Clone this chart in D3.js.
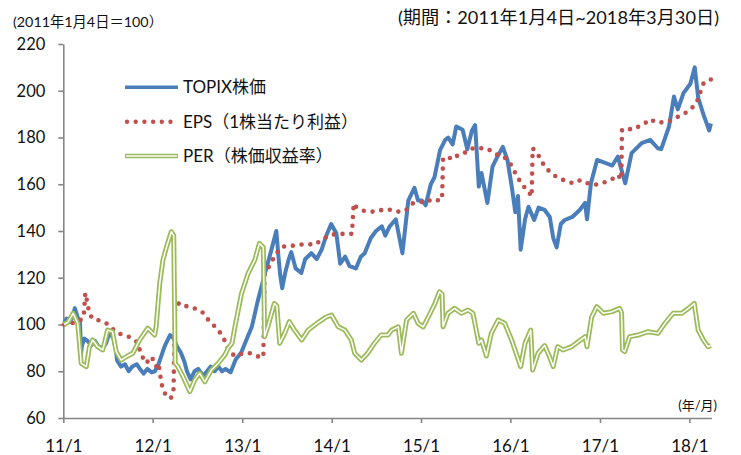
<!DOCTYPE html>
<html><head><meta charset="utf-8">
<script src="https://cdn.jsdelivr.net/npm/d3@7"></script>
<style>
body{margin:0;background:#fff}
text{font-family:Lato,"Noto Sans CJK JP",sans-serif;fill:#111}
</style>
</head><body>
<svg id="c" width="741" height="455"></svg>
<script>
// ---------- data ----------
const seriesNames = ["TOPIX株価", "EPS（1株当たり利益）", "PER（株価収益率）"];
const yTicks = [60, 80, 100, 120, 140, 160, 180, 200, 220];
const xTickYears = [2011, 2012, 2013, 2014, 2015, 2016, 2017, 2018];
const baseNote = "(2011年1月4日＝100）";
const periodNote = "(期間：2011年1月4日~2018年3月30日)";
const unitNote = "(年/月)";

const topix = [
["2011-01-04",100],["2011-01-14",102.5],["2011-01-28",101],["2011-02-10",104],["2011-02-17",107],
["2011-03-01",103],["2011-03-10",101],["2011-03-15",88],["2011-03-18",91],["2011-03-28",94],
["2011-04-10",93],["2011-04-25",91],["2011-05-10",93],["2011-05-25",90.5],["2011-06-10",90],
["2011-06-25",92],["2011-07-08",96.5],["2011-07-25",94],["2011-08-04",89],["2011-08-09",84.5],
["2011-08-25",82],["2011-09-10",83],["2011-09-25",80],["2011-10-10",82],["2011-10-28",83],
["2011-11-10",81],["2011-11-25",79],["2011-12-10",81],["2011-12-28",79.5],["2012-01-10",80],
["2012-01-25",83],["2012-02-10",88],["2012-02-20",91],["2012-03-12",95.5],["2012-03-27",94],
["2012-04-10",90.5],["2012-04-25",88],["2012-05-10",84],["2012-05-20",80],["2012-06-04",76.5],
["2012-06-20",80],["2012-07-05",81],["2012-07-25",78],["2012-08-10",80],["2012-08-25",82],
["2012-09-10",80],["2012-09-25",82],["2012-10-10",80],["2012-10-25",81],["2012-11-14",79.5],
["2012-12-05",85],["2012-12-28",88],["2013-01-20",94],["2013-02-09",99],["2013-03-05",110],
["2013-04-04",122],["2013-04-25",130],["2013-05-20",140],["2013-05-28",130],["2013-06-05",121],
["2013-06-13",115.5],["2013-06-25",122],["2013-07-10",128],["2013-07-20",131],["2013-08-07",124],
["2013-08-30",122],["2013-09-15",128],["2013-10-10",130.5],["2013-11-01",128],["2013-11-21",132],
["2013-12-10",138],["2013-12-30",143],["2014-01-20",139],["2014-02-05",126],["2014-02-25",129],
["2014-03-15",125],["2014-04-10",124],["2014-04-30",129],["2014-05-16",130.5],["2014-06-10",137],
["2014-07-01",140],["2014-07-25",142],["2014-08-08",138],["2014-08-25",141.8],["2014-09-20",145],
["2014-10-17",130.5],["2014-11-10",153],["2014-12-05",158.5],["2014-12-20",153],["2015-01-05",153],
["2015-01-20",151],["2015-02-10",160],["2015-02-25",163],["2015-03-20",174.7],["2015-04-10",179],
["2015-04-22",180],["2015-05-10",177],["2015-05-25",184.7],["2015-06-20",183.3],["2015-07-09",175],
["2015-07-28",183],["2015-08-10",185.3],["2015-08-25",159],["2015-09-05",164.8],["2015-09-29",152],
["2015-10-20",167.5],["2015-11-10",172],["2015-12-01",176],["2015-12-20",170.4],["2016-01-08",158],
["2016-01-21",148],["2016-02-01",155],["2016-02-12",132],["2016-03-01",145],["2016-03-15",150.4],
["2016-04-07",144.7],["2016-04-25",150],["2016-05-20",149],["2016-06-10",146],["2016-06-24",137],
["2016-07-08",133],["2016-07-25",143],["2016-08-10",144.7],["2016-09-10",146],["2016-10-10",149],
["2016-11-01",152],["2016-11-09",145],["2016-11-25",160.4],["2016-12-20",170.4],["2017-01-25",169],
["2017-02-20",168],["2017-03-15",171.8],["2017-04-14",160.4],["2017-05-10",173.3],["2017-06-20",177.6],
["2017-07-25",179],["2017-08-25",175.4],["2017-09-08",175],["2017-10-10",184.7],["2017-10-30",197.5],
["2017-11-15",192],["2017-12-08",199],["2018-01-05",203],["2018-01-23",210],["2018-02-06",197],
["2018-02-27",190],["2018-03-23",183],["2018-03-30",186]
];

const eps = [
["2011-01-04",100],["2011-03-01",101],["2011-03-25",103],["2011-04-01",113.5],["2011-04-08",110],
["2011-04-15",106],["2011-04-28",102.6],["2011-05-20",102],["2011-06-25",100.6],["2011-08-08",96.5],
["2011-09-01",95.5],["2011-09-28",94.7],["2011-10-28",92.6],["2011-11-20",86.2],["2011-12-05",83.4],
["2011-12-28",86.2],["2012-01-15",82],["2012-01-25",83.5],["2012-02-05",75.5],["2012-02-12",72],
["2012-02-28",69.1],["2012-03-15",68.4],["2012-03-26",71.3],["2012-04-02",108.3],["2012-04-25",109.3],
["2012-05-15",107.9],["2012-06-10",107.4],["2012-07-05",106.2],["2012-07-25",105],["2012-08-10",102.6],
["2012-08-30",100.5],["2012-09-15",98.6],["2012-10-05",96.2],["2012-10-20",93.4],["2012-11-05",89.1],
["2012-12-01",86.5],["2013-01-05",87.7],["2013-02-01",87.7],["2013-02-20",87],["2013-03-10",86.2],
["2013-03-28",86],["2013-04-02",121.9],["2013-04-20",124.7],["2013-05-01",126.9],["2013-05-20",130.5],
["2013-06-15",133.3],["2013-07-20",133.6],["2013-08-10",134],["2013-09-05",134.3],["2013-10-01",134.4],
["2013-10-20",134],["2013-11-10",135.4],["2013-12-01",136.9],["2014-01-01",138.3],["2014-01-28",139],
["2014-02-25",138.6],["2014-03-25",138.8],["2014-04-01",151.8],["2014-04-10",150.4],["2014-05-10",148.7],
["2014-06-05",148.3],["2014-06-28",148.3],["2014-07-25",149],["2014-08-20",149.3],["2014-09-20",148.3],
["2014-10-20",148.3],["2014-11-05",149.3],["2014-11-28",151.8],["2014-12-15",152.1],["2015-01-05",152.5],
["2015-01-25",153.5],["2015-02-20",152.5],["2015-03-20",153.5],["2015-03-28",153.5],["2015-04-01",171],
["2015-04-20",171.8],["2015-05-10",170.6],["2015-06-01",172.5],["2015-06-15",173.2],["2015-07-15",173.9],
["2015-08-01",175.4],["2015-08-28",175.4],["2015-09-25",175.4],["2015-10-20",173.9],["2015-11-10",172.5],
["2015-12-05",171.8],["2015-12-28",169.6],["2016-01-25",164],["2016-02-10",161.1],["2016-02-25",159],
["2016-03-15",156.8],["2016-03-28",154.7],["2016-04-01",175.4],["2016-04-20",173.2],["2016-05-05",170.4],
["2016-05-20",167.5],["2016-06-17",164.7],["2016-07-07",163.2],["2016-07-28",162.1],["2016-08-24",161.1],
["2016-09-14",160.4],["2016-10-13",161.8],["2016-11-12",160.4],["2016-12-09",159.7],["2017-01-02",160.4],
["2017-01-29",161.1],["2017-02-25",162.5],["2017-03-15",164],["2017-03-29",162],["2017-04-01",183.2],
["2017-04-12",183.9],["2017-05-16",183.4],["2017-06-12",184.9],["2017-07-03",186],["2017-07-23",187.8],
["2017-08-26",186.3],["2017-10-01",186.8],["2017-10-27",187.5],["2017-11-17",189],["2017-12-07",190],
["2017-12-28",191.3],["2018-01-17",193.2],["2018-02-01",195.3],["2018-02-14",199.2],["2018-02-28",203.2],
["2018-03-18",204.6],["2018-03-30",204.8]
];

const per = [
["2011-01-04",100],["2011-01-20",101],["2011-02-10",104.8],["2011-03-01",100.5],["2011-03-15",83.4],
["2011-04-05",82],["2011-04-18",90.5],["2011-05-01",93.4],["2011-05-21",90.5],["2011-06-11",89.1],
["2011-07-01",97.6],["2011-07-21",96.9],["2011-08-05",88.4],["2011-08-25",84.8],["2011-09-15",86.2],
["2011-10-12",87.7],["2011-11-09",93.4],["2011-12-12",98.4],["2012-01-09",95.5],["2012-01-15",99],
["2012-01-30",117.7],["2012-02-12",127.6],["2012-02-27",133.3],["2012-03-17",139.7],["2012-03-27",138],
["2012-04-02",83.4],["2012-04-13",82],["2012-05-04",77.7],["2012-06-01",71.3],["2012-06-21",76.3],
["2012-07-11",79.1],["2012-08-01",75.5],["2012-08-28",80.5],["2012-09-25",83.4],["2012-10-22",87],
["2012-11-05",90],["2012-11-20",92],["2012-12-02",99],["2012-12-29",113.3],["2013-01-25",121.9],
["2013-02-21",127.6],["2013-03-12",134.7],["2013-03-28",133],["2013-04-02",94.8],["2013-04-15",99],
["2013-05-12",109],["2013-05-22",108],["2013-06-03",92],["2013-06-23",96.2],["2013-07-12",101.2],
["2013-08-02",97.6],["2013-09-01",93.4],["2013-09-27",97.6],["2013-10-24",99.8],["2013-11-21",101.9],
["2013-12-11",103.3],["2014-01-01",104],["2014-01-28",99],["2014-02-24",97.6],["2014-03-22",93.4],
["2014-04-05",87.7],["2014-05-02",84.8],["2014-05-28",87.7],["2014-06-25",92],["2014-07-22",95.5],
["2014-08-19",95.5],["2014-09-03",97.6],["2014-09-30",99],["2014-10-13",87.7],["2014-11-03",101.9],
["2014-12-01",104.8],["2014-12-20",100.5],["2015-01-10",99],["2015-01-31",103.3],["2015-02-27",109],
["2015-03-17",114],["2015-03-28",113],["2015-04-01",99],["2015-04-21",104.8],["2015-05-18",106.9],
["2015-06-15",104.8],["2015-07-12",106.2],["2015-08-01",104.8],["2015-08-25",92],["2015-09-05",93.4],
["2015-09-25",86.5],["2015-10-15",96.2],["2015-11-12",101.9],["2015-12-09",100.5],["2016-01-06",93.4],
["2016-02-12",82],["2016-03-01",92],["2016-03-24",97.6],["2016-04-01",80.5],["2016-04-23",87.7],
["2016-05-20",91],["2016-06-09",86.2],["2016-06-24",82],["2016-07-12",90.5],["2016-08-03",89.1],
["2016-09-07",90.5],["2016-10-04",92.6],["2016-11-01",94.8],["2016-11-09",90.5],["2016-11-28",103.3],
["2016-12-19",107.6],["2017-01-15",104.8],["2017-02-19",105.5],["2017-03-22",106.9],["2017-03-30",105],
["2017-04-03",89.1],["2017-04-12",88.4],["2017-05-02",94.8],["2017-06-06",95.5],["2017-07-16",96.9],
["2017-08-26",96.2],["2017-09-23",100.5],["2017-10-27",104.8],["2017-12-01",104.8],["2017-12-28",106.9],
["2018-01-21",109],["2018-02-06",97.6],["2018-02-27",93.4],["2018-03-18",90.5],["2018-03-30",91]
];

// ---------- chart ----------
const parse = d3.timeParse("%Y-%m-%d");
const prep = arr => arr.map(([d, v]) => ({date: parse(d), v}));
const sTopix = prep(topix), sEps = prep(eps), sPer = prep(per);

const svg = d3.select("#c");
svg.append("rect").attr("width", 741).attr("height", 455).attr("fill", "#fff");

const x = d3.scaleTime().domain([new Date(2011, 0, 1), new Date(2018, 3, 1)]).range([63.3, 711.4]);
const y = d3.scaleLinear().domain([60, 220]).range([418, 44]);

const axisColor = "#868686";

// y axis
const gy = svg.append("g").attr("transform", "translate(63.3,0)")
  .call(d3.axisLeft(y).tickValues(yTicks).tickSize(5).tickSizeOuter(0).tickPadding(13));
gy.selectAll("text").style("font-size", "16.5px").attr("fill", "#111");

// x axis
const gx = svg.append("g").attr("transform", "translate(0,418)")
  .call(d3.axisBottom(x).tickValues(xTickYears.map(yr => new Date(yr, 0, 1)))
    .tickFormat(d3.timeFormat("%y/%-m")).tickSize(5).tickSizeOuter(0).tickPadding(17));
gx.selectAll("text").style("font-size", "17px").attr("fill", "#111");

[gx, gy].forEach(g => {
  g.select(".domain").attr("stroke", axisColor).attr("stroke-width", 1.6);
  g.selectAll(".tick line").attr("stroke", axisColor).attr("stroke-width", 1.6);
});

const line = d3.line().x(d => x(d.date)).y(d => y(d.v));

const blue = "#4A7EBB", red = "#C0504D", green = "#9BBB59";

svg.append("path").datum(sTopix).attr("d", line)
  .attr("fill", "none").attr("stroke", blue).attr("stroke-width", 4).attr("stroke-linejoin", "round");

svg.append("path").datum(sEps).attr("d", line)
  .attr("fill", "none").attr("stroke", red).attr("stroke-width", 4.6)
  .attr("stroke-linecap", "round").attr("stroke-dasharray", "0 8.8");

svg.append("path").datum(sPer).attr("d", line)
  .attr("fill", "none").attr("stroke", green).attr("stroke-width", 5).attr("stroke-linejoin", "round");
svg.append("path").datum(sPer).attr("d", line)
  .attr("fill", "none").attr("stroke", "#fff").attr("stroke-width", 1.5).attr("stroke-linejoin", "round");

// legend
const legY = [87.3, 121.7, 156];
const lx0 = 125, lx1 = 178;
const lg = svg.append("g");
lg.append("line").attr("x1", lx0).attr("x2", lx1).attr("y1", legY[0]).attr("y2", legY[0])
  .attr("stroke", blue).attr("stroke-width", 3.5);
lg.append("line").attr("x1", lx0 + 2).attr("x2", lx1).attr("y1", legY[1]).attr("y2", legY[1])
  .attr("stroke", red).attr("stroke-width", 4.4).attr("stroke-linecap", "round").attr("stroke-dasharray", "0 8.7");
lg.append("line").attr("x1", lx0).attr("x2", lx1).attr("y1", legY[2]).attr("y2", legY[2])
  .attr("stroke", green).attr("stroke-width", 4.6);
lg.append("line").attr("x1", lx0 + 1).attr("x2", lx1 - 1).attr("y1", legY[2]).attr("y2", legY[2])
  .attr("stroke", "#fff").attr("stroke-width", 1.4);
seriesNames.forEach((n, i) => {
  lg.append("text").attr("x", 183).attr("y", legY[i]).attr("dy", "0.36em")
    .style("font-size", "17px").text(n);
});

// notes
svg.append("text").attr("x", 13).attr("y", 27).style("font-size", "14.3px").text(baseNote);
svg.append("text").attr("x", 719).attr("y", 24).attr("text-anchor", "end").style("font-size", "18.2px").text(periodNote);
svg.append("text").attr("x", 717).attr("y", 410).attr("text-anchor", "end").style("font-size", "13px").text(unitNote);
</script>
</body></html>
